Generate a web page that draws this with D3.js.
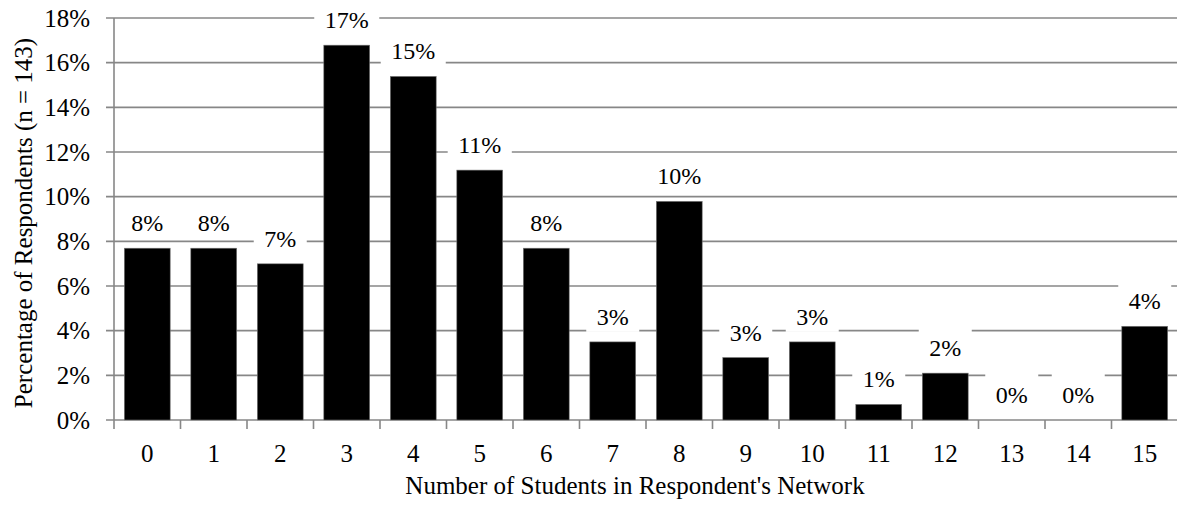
<!DOCTYPE html>
<html>
<head>
<meta charset="utf-8">
<script src="https://cdn.jsdelivr.net/npm/d3@7"></script>
<style>
  body { margin: 0; background: #fff; }
  svg { display: block; }
  svg text { font-family: "Liberation Serif", "Times New Roman", Times, serif; fill: #000; }
</style>
</head>
<body>
<svg></svg>
<script>
'use strict';

// number of students in the respondent's network
var categories = ['0', '1', '2', '3', '4', '5', '6', '7', '8', '9', '10', '11', '12', '13', '14', '15'];
// share of respondents, percent (n = 143)
var percents = [7.692, 7.692, 6.993, 16.783, 15.385, 11.189, 7.692, 3.497, 9.790, 2.797, 3.497, 0.699, 2.098, 0, 0, 4.196];
var yTicks = [0, 2, 4, 6, 8, 10, 12, 14, 16, 18];
var xTitle = "Number of Students in Respondent's Network";
var yTitle = 'Percentage of Respondents (n = 143)';

var canvasWidth = 1177,
  canvasHeight = 506,
  plotLeft = 114,
  plotRight = 1178,
  plotTop = 18,
  plotBottom = 420,
  gridColor = '#878787',
  fontFamily = '"Liberation Serif", "Times New Roman", Times, serif',
  fontSize = 25,
  labelSize = 24;

var svg = d3.select('svg')
  .attr('width', canvasWidth)
  .attr('height', canvasHeight);

var xScale = d3.scaleBand()
  .domain(categories)
  .range([plotLeft, plotRight])
  .paddingInner(0.31)
  .paddingOuter(0.155);

var yScale = d3.scaleLinear()
  .domain([0, 18])
  .range([plotBottom, plotTop]);

var step = xScale.step();
var gap = (step - xScale.bandwidth()) / 2;

function textStyle(size) {
  return function(sel) {
    sel.attr('font-family', fontFamily)
      .attr('font-size', size)
      .style('font-family', fontFamily)
      .style('font-size', size + 'px');
  };
}

// horizontal gridlines plus the little ticks left of the axis
svg.append('g')
  .selectAll('line')
  .data(yTicks)
  .enter().append('line')
    .attr('x1', plotLeft - 8)
    .attr('x2', plotRight)
    .attr('y1', function(d) { return yScale(d); })
    .attr('y2', function(d) { return yScale(d); })
    .style('stroke', gridColor)
    .style('stroke-width', 1.6);

// y tick labels
svg.append('g')
  .selectAll('text')
  .data(yTicks)
  .enter().append('text')
    .attr('x', 90)
    .attr('y', function(d) { return yScale(d) + 8.5; })
    .attr('text-anchor', 'end')
    .call(textStyle(fontSize))
    .text(function(d) { return d + '%'; });

// y axis line
svg.append('line')
  .attr('x1', plotLeft).attr('x2', plotLeft)
  .attr('y1', plotTop).attr('y2', plotBottom)
  .style('stroke', gridColor)
  .style('stroke-width', 1.6);

// x ticks at the category boundaries
svg.append('g')
  .selectAll('line')
  .data(categories)
  .enter().append('line')
    .attr('x1', function(d) { return xScale(d) - gap; })
    .attr('x2', function(d) { return xScale(d) - gap; })
    .attr('y1', plotBottom)
    .attr('y2', plotBottom + 9)
    .style('stroke', gridColor)
    .style('stroke-width', 1.6);

// x tick labels
svg.append('g')
  .selectAll('text')
  .data(categories)
  .enter().append('text')
    .attr('x', function(d) { return xScale(d) + xScale.bandwidth() / 2; })
    .attr('y', 462)
    .attr('text-anchor', 'middle')
    .call(textStyle(fontSize))
    .text(function(d) { return d; });

// bars
svg.append('g')
  .selectAll('rect')
  .data(percents)
  .enter().append('rect')
    .attr('x', function(d, i) { return xScale(categories[i]); })
    .attr('y', function(d) { return yScale(d); })
    .attr('width', xScale.bandwidth())
    .attr('height', function(d) { return plotBottom - yScale(d); })
    .style('fill', '#000')
    .style('stroke', '#777')
    .style('stroke-width', 0.6);

// value labels with a white box that breaks the gridlines
var fmt = function(d) { return Math.round(d) + '%'; };
var labels = svg.append('g')
  .selectAll('g')
  .data(percents)
  .enter().append('g')
    .attr('transform', function(d, i) {
      var cx = xScale(categories[i]) + xScale.bandwidth() / 2;
      return 'translate(' + cx + ',' + (yScale(d) - 17) + ')';
    });

labels.append('rect');
labels.append('text')
  .attr('text-anchor', 'middle')
  .call(textStyle(labelSize))
  .text(fmt);

labels.each(function() {
  var g = d3.select(this);
  var w = g.select('text').node().getComputedTextLength() + 21;
  g.select('rect')
    .attr('x', -w / 2)
    .attr('y', -31)
    .attr('width', w)
    .attr('height', 38)
    .style('fill', '#fff');
});

// axis titles
svg.append('text')
  .attr('x', 635)
  .attr('y', 494)
  .attr('text-anchor', 'middle')
  .call(textStyle(fontSize))
  .text(xTitle);

svg.append('text')
  .attr('transform', 'translate(32,' + ((plotTop + plotBottom) / 2 + 4) + ') rotate(-90)')
  .attr('text-anchor', 'middle')
  .call(textStyle(fontSize))
  .text(yTitle);
</script>
</body>
</html>
